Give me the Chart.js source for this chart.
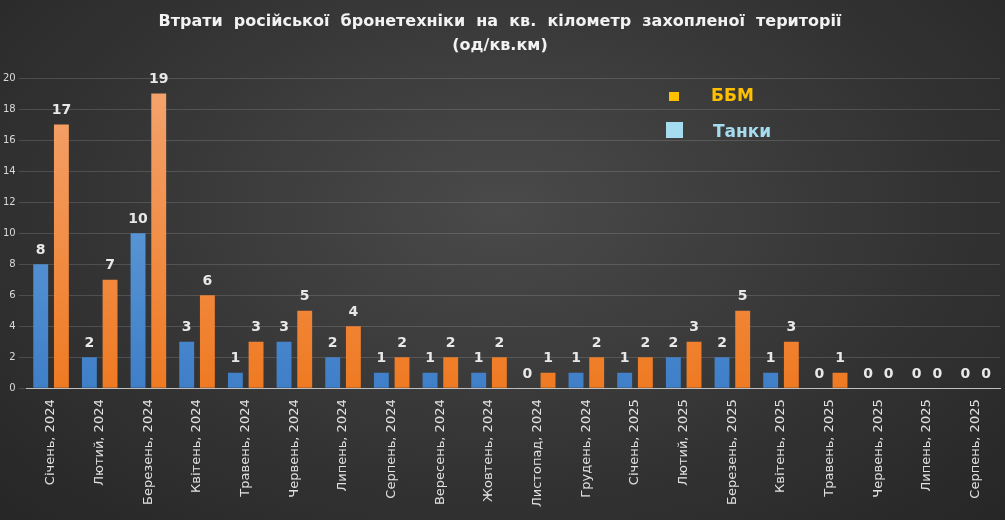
<!DOCTYPE html>
<html><head><meta charset="utf-8">
<script src="https://cdn.jsdelivr.net/npm/chart.js@4"></script>
<style>
body{margin:0;background:#262626;}
#wrap{position:relative;width:1005px;height:520px;background:radial-gradient(ellipse at 50% 40%,#4a4a4a 0%,#333 60%,#262626 100%);}
.leg{position:absolute;font:bold 17px "DejaVu Sans",sans-serif;}
.sw{position:absolute;}
</style></head><body>
<div id="wrap">
<canvas id="c" width="1005" height="520"></canvas>
<div class="sw" style="left:669px;top:92px;width:10px;height:9px;background:#ffc000"></div>
<div class="leg" style="left:711px;top:85px;color:#ffc000">ББМ</div>
<div class="sw" style="left:666px;top:122px;width:17px;height:16px;background:#a6dcf0"></div>
<div class="leg" style="left:713px;top:121px;color:#a6dcf0">Танки</div>
</div>
<script>
const months = ['Січень, 2024','Лютий, 2024','Березень, 2024','Квітень, 2024','Травень, 2024','Червень, 2024','Липень, 2024','Серпень, 2024','Вересень, 2024','Жовтень, 2024','Листопад, 2024','Грудень, 2024','Січень, 2025','Лютий, 2025','Березень, 2025','Квітень, 2025','Травень, 2025','Червень, 2025','Липень, 2025','Серпень, 2025'];
const tanks = [8,2,10,3,1,3,2,1,1,1,0,1,1,2,2,1,0,0,0,0];
const bbm = [17,7,19,6,3,5,4,2,2,2,1,2,2,3,5,3,1,0,0,0];

function grad(c1, c2) {
    return function(ctx) {
        const a = ctx.chart.chartArea;
        if (!a) return c2;
        const g = ctx.chart.ctx.createLinearGradient(0, a.top, 0, a.bottom);
        g.addColorStop(0, c1);
        g.addColorStop(1, c2);
        return g;
    };
}

// value labels above bars
const valueLabels = {
    id: 'valueLabels',
    afterDatasetsDraw(chart) {
        const ctx = chart.ctx;
        ctx.save();
        ctx.font = 'bold 14px "DejaVu Sans", sans-serif';
        ctx.fillStyle = '#e8e8e8';
        ctx.textAlign = 'center';
        ctx.textBaseline = 'bottom';
        chart.data.datasets.forEach((ds, i) => {
            chart.getDatasetMeta(i).data.forEach((bar, j) => {
                ctx.fillText(ds.data[j], bar.x, bar.y - 7);
            });
        });
        ctx.restore();
    }
};

new Chart(document.getElementById('c'), {
    type: 'bar',
    data: {
        labels: months,
        datasets: [
            { label: 'Танки', data: tanks, backgroundColor: grad('#6fa8e0', '#3f7fc8'), barPercentage: 0.72, categoryPercentage: 0.85 },
            { label: 'ББМ', data: bbm, backgroundColor: grad('#f4a470', '#ef7a22'), barPercentage: 0.72, categoryPercentage: 0.85 }
        ]
    },
    options: {
        responsive: false,
        animation: false,
        layout: { padding: { top: 0, right: 5, left: 0, bottom: 10 } },
        plugins: {
            legend: { display: false },
            tooltip: { enabled: false },
            title: {
                display: true,
                text: ['Втрати  російської  бронетехніки  на  кв.  кілометр  захопленої  території', '(од/кв.км)'],
                color: '#f2f2f2',
                font: { family: '"DejaVu Sans", sans-serif', size: 16, weight: 'bold', lineHeight: 1.5 },
                padding: { top: 10, bottom: 20 }
            }
        },
        scales: {
            x: {
                grid: { display: false },
                border: { color: '#bfbfbf' },
                ticks: { color: '#e0e0e0', maxRotation: 90, minRotation: 90, font: { family: '"DejaVu Sans", sans-serif', size: 13 } }
            },
            y: {
                min: 0, max: 20,
                ticks: { stepSize: 2, color: '#d9d9d9', font: { family: '"DejaVu Sans", sans-serif', size: 10 } },
                grid: { color: 'rgba(255,255,255,0.14)' },
                border: { display: false }
            }
        }
    },
    plugins: [valueLabels]
});
</script>
</body></html>
